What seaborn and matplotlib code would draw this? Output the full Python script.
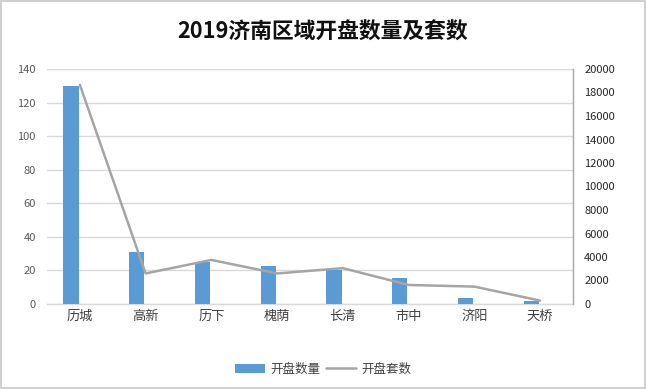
import matplotlib
matplotlib.use("Agg")
import matplotlib.pyplot as plt
import seaborn as sns
import pandas as pd
import numpy as np
from matplotlib.patches import Patch, Rectangle
from matplotlib.lines import Line2D

districts = ["历城", "高新", "历下", "槐荫", "长清", "市中", "济阳", "天桥"]
projects = [130, 31, 25, 22.5, 20, 15.5, 3.5, 2]
units = [18650, 2600, 3750, 2600, 3050, 1620, 1480, 290]
left_ticks = [0, 20, 40, 60, 80, 100, 120, 140]
right_ticks = [0, 2000, 4000, 6000, 8000, 10000, 12000, 14000, 16000, 18000, 20000]

sns.set_theme(style="white")
plt.rcParams['font.family'] = ['Noto Sans CJK SC', 'DejaVu Sans']

df = pd.DataFrame({"区域": districts, "开盘数量": projects, "开盘套数": units})

fig = plt.figure(figsize=(6.46, 3.89), dpi=100)
ax = fig.add_axes([47/646, 1-304/389, (573-47)/646, (304-69)/389])

bar_color = "#5b9bd5"
line_color = "#a5a5a5"
grid_color = "#d9d9d9"

sns.barplot(data=df, x="区域", y="开盘数量", color=bar_color, width=0.23,
            saturation=1, ax=ax, zorder=3)
for p in ax.patches:
    p.set_x(p.get_x() - 0.135)
    p.set_edgecolor("none")

ax.set_ylim(0, 140)
ax.set_xlim(-0.5, len(districts) - 0.5)
ax.set_yticks(left_ticks)
ax.yaxis.grid(True, color=grid_color, linewidth=1)
ax.set_axisbelow(True)
ax.set_xlabel("")
ax.set_ylabel("")
for s in ["left", "right", "top"]:
    ax.spines[s].set_visible(False)
ax.spines["bottom"].set_color(grid_color)
ax.spines["bottom"].set_linewidth(1)
ax.tick_params(axis="y", colors="#595959", labelsize=8, length=0, pad=8)
ax.tick_params(axis="x", colors="#404040", labelsize=9.5, length=0, pad=4)

ax2 = ax.twinx()
sns.lineplot(x=np.arange(len(districts)), y=units, ax=ax2, color=line_color,
             linewidth=1.8, sort=False, zorder=4)
ax2.set_ylim(0, 20000)
ax2.set_yticks(right_ticks)
ax2.set_xlim(-0.5, len(districts) - 0.5)
for s in ["left", "top", "bottom"]:
    ax2.spines[s].set_visible(False)
ax2.spines["right"].set_color("#a6a6a6")
ax2.spines["right"].set_linewidth(1)
ax2.tick_params(axis="y", colors="#262626", labelsize=8, length=0, pad=8)
ax2.grid(False)

fig.text(0.5, 1-32/389, "2019济南区域开盘数量及套数", ha="center", va="center",
         fontsize=15.7, fontweight="bold", color="#111111")

handles = [Patch(facecolor=bar_color, edgecolor="none"),
           Line2D([0], [0], color=line_color, linewidth=1.8)]
fig.legend(handles, ["开盘数量", "开盘套数"], loc="center",
           bbox_to_anchor=(0.5, 1-369/389), ncol=2, frameon=False,
           fontsize=9, handlelength=2.4, handleheight=0.7, columnspacing=0.5,
           handletextpad=0.4, labelcolor="#404040")

fig.patches.append(Rectangle((0.002, 0.002), 0.996, 0.996, transform=fig.transFigure,
                             fill=False, edgecolor="#d0d0d0", linewidth=1.5))

fig.savefig("out.png", dpi=100, facecolor="white")
